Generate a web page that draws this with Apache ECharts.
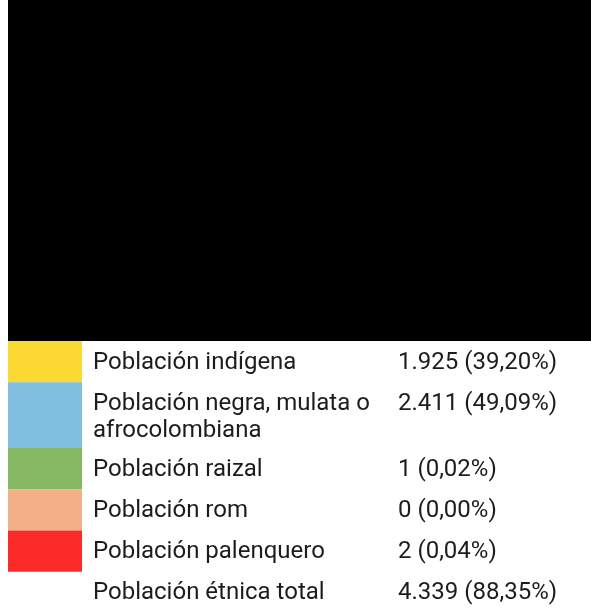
<!DOCTYPE html>
<html>
<head>
<meta charset="utf-8">
<script src="https://cdn.jsdelivr.net/npm/echarts@6/dist/echarts.min.js"></script>
<style>
html,body{margin:0;padding:0;background:#fff;}
#chart{width:591px;height:613px;}
</style>
</head>
<body>
<div id="chart"></div>
<script>
// Data
var categories = ['Población indígena', 'Población negra, mulata o\nafrocolombiana', 'Población raizal', 'Población rom', 'Población palenquero', 'Población étnica total'];
var counts = [1925, 2411, 1, 0, 2, 4339];
var percents = [39.20, 49.09, 0.02, 0.00, 0.04, 88.35];
var colors = ['#FCD932', '#80BFE0', '#86B864', '#F3AF87', '#FD2A2A', null];

function fmtInt(n) {
  return String(n).replace(/\B(?=(\d{3})+(?!\d))/g, '.');
}
function fmtPct(p) {
  return p.toFixed(2).replace('.', ',') + '%';
}

// Row layout derived from the number of text lines per label
var BASE = 17, ROWLINE = 25, TEXTLINE = 27;
var rows = [];
var acc = 0;
categories.forEach(function (c, i) {
  var lines = c.split('\n').length;
  var h = BASE + ROWLINE * lines;
  rows.push([i, acc, acc + h]);
  acc += h;
});
var total = acc;

var chart = echarts.init(document.getElementById('chart'), null, {renderer: 'canvas'});
var FONT = '24px Roboto';
var TXT = '#1c1c1c';

chart.setOption({
  animation: false,
  graphic: [{
    type: 'rect',
    shape: {x: 8, y: 0, width: 583, height: 341},
    style: {fill: '#000'}
  }],
  grid: {left: 8, right: 0, top: 341, height: total},
  xAxis: {type: 'value', min: 0, max: 583, show: false},
  yAxis: {type: 'value', min: 0, max: total, inverse: true, show: false},
  series: [{
    type: 'custom',
    clip: false,
    data: rows,
    renderItem: function (params, api) {
      var i = api.value(0);
      var p0 = api.coord([0, api.value(1)]);
      var p1 = api.coord([74, api.value(2)]);
      var children = [];
      if (colors[i]) {
        children.push({
          type: 'rect',
          shape: {x: p0[0], y: p0[1], width: p1[0] - p0[0], height: p1[1] - p0[1]},
          style: {fill: colors[i]}
        });
      }
      var ty = p0[1] + 8;
      children.push({
        type: 'text',
        style: {
          text: categories[i], x: p0[0] + 85, y: ty,
          font: FONT, fill: TXT, lineHeight: TEXTLINE, verticalAlign: 'top'
        }
      });
      children.push({
        type: 'text',
        style: {
          text: fmtInt(counts[i]) + ' (' + fmtPct(percents[i]) + ')',
          x: p0[0] + 390, y: ty,
          font: FONT, fill: TXT, lineHeight: TEXTLINE, verticalAlign: 'top'
        }
      });
      return {type: 'group', children: children};
    }
  }]
});
</script>
</body>
</html>
